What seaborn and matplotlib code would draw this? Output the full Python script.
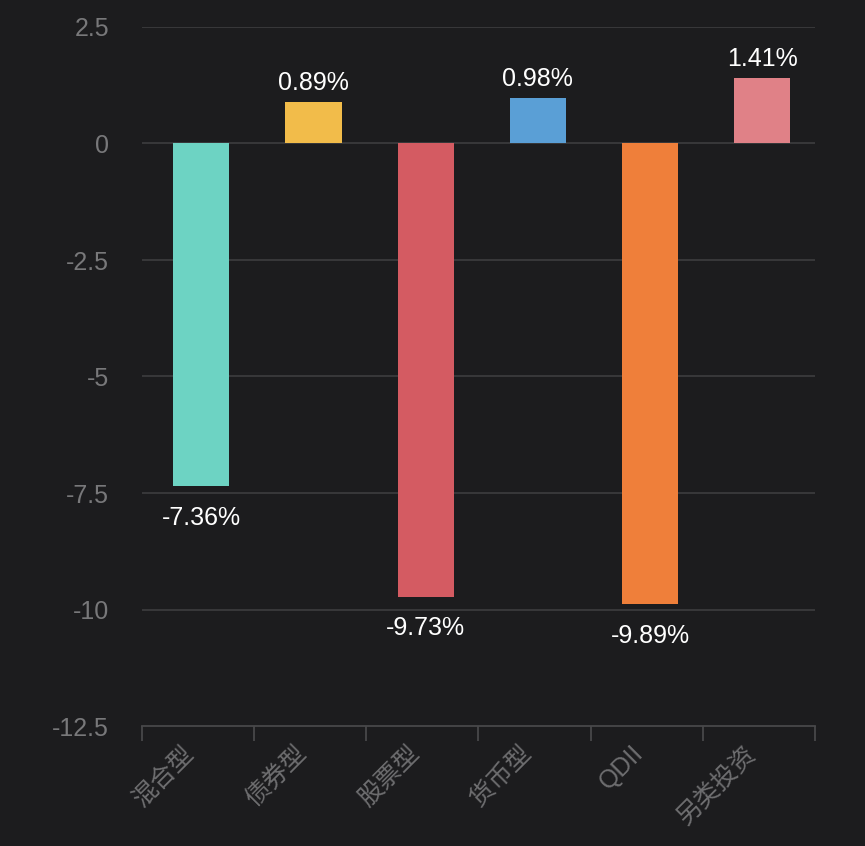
import matplotlib
matplotlib.use('Agg')
import numpy as np
import pandas as pd
import seaborn as sns
import matplotlib.pyplot as plt
import matplotlib.transforms as mtransforms
from matplotlib.ticker import FixedLocator

#%% Data
categories = ['混合型', '债券型', '股票型', '货币型', 'QDII', '另类投资']
returns = [-7.36, 0.89, -9.73, 0.98, -9.89, 1.41]
bar_colors = ['#6dd3c3', '#f2bc4a', '#d45b62', '#5a9fd6', '#ef7f3a', '#e08187']
y_ticks = [2.5, 0, -2.5, -5, -7.5, -10, -12.5]
y_tick_labels = ['2.5', '0', '-2.5', '-5', '-7.5', '-10', '-12.5']

df = pd.DataFrame({'category': categories, 'ret': returns})

#%% Style
bg = '#1c1c1e'
sns.set_style('dark', {'axes.facecolor': bg, 'figure.facecolor': bg})
plt.rcParams['font.family'] = ['Liberation Sans', 'Noto Sans CJK SC', 'DejaVu Sans']

fig = plt.figure(figsize=(8.65, 8.46), dpi=100)
ax = fig.add_axes([0.164, 1 - 726 / 846, 0.778, (726 - 27) / 846])

sns.barplot(df, x='category', y='ret', hue='category', palette=bar_colors,
            width=0.5, saturation=1, legend=False, linewidth=0, ax=ax)

ax.set_xlim(-0.53, len(categories) - 0.53)
ax.set_ylim(-12.5, 2.5)

# grid lines
for y in y_ticks:
    if y != -12.5:
        ax.axhline(y, color='#3a3a3c', linewidth=1.3, zorder=0)

ax.set_yticks(y_ticks)
ax.set_yticklabels(y_tick_labels)
ax.tick_params(axis='y', length=0, pad=33, labelsize=18, labelcolor='#78787a')
for lbl in ax.get_yticklabels():
    lbl.set_transform(lbl.get_transform() + mtransforms.ScaledTranslation(13 / 100, 0, fig.dpi_scale_trans))

# x ticks: labels at centers, tick marks at boundaries
ax.set_xticks(range(len(categories)))
ax.set_xticklabels(categories, rotation=45, ha='right')
ax.tick_params(axis='x', which='major', length=0, pad=8, labelsize=18,
               labelcolor='#6e6e70')
offset = mtransforms.ScaledTranslation(-2 / 100, -4 / 100, fig.dpi_scale_trans)
for lbl in ax.get_xticklabels():
    lbl.set_transform(lbl.get_transform() + offset)
ax.xaxis.set_minor_locator(FixedLocator(np.arange(-0.53, len(categories), 1)))
ax.tick_params(axis='x', which='minor', bottom=True, length=11, width=1.3,
               color='#48484a', direction='out')

for side in ['top', 'right', 'left']:
    ax.spines[side].set_visible(False)
ax.spines['bottom'].set_color('#48484a')
ax.spines['bottom'].set_linewidth(1.3)

ax.set_xlabel('')
ax.set_ylabel('')

# value labels
for i, v in enumerate(returns):
    if v >= 0:
        ax.annotate(f'{v:.2f}%', (i, v), xytext=(0, 5), textcoords='offset points',
                    ha='center', va='bottom', color='white', fontsize=18)
    else:
        ax.annotate(f'{v:.2f}%', (i, v), xytext=(0, -14), textcoords='offset points',
                    ha='center', va='top', color='white', fontsize=18)

plt.savefig('out.png', dpi=100, facecolor=bg)
